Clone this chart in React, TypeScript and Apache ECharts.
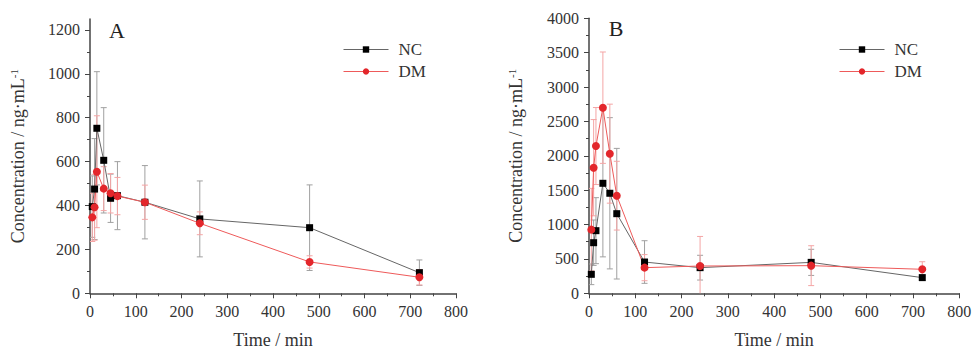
import React, { useEffect, useRef } from "react";
import * as echarts from "echarts";

const TIMES = [5, 10, 15, 30, 45, 60, 120, 240, 480, 720];
const A_Y_TICKS = [0, 200, 400, 600, 800, 1000, 1200];
const A_Y_MINOR = [100, 300, 500, 700, 900, 1100];

const A_NC_MEAN = [395, 475, 752, 606, 433, 445, 415, 339, 299, 94];
const A_NC_SD = [140, 230, 258, 240, 110, 155, 167, 173, 195, 58];
const A_DM_MEAN = [346, 392, 554, 477, 456, 443, 415, 319, 143, 73];
const A_DM_SD = [110, 150, 255, 100, 90, 85, 78, 52, 28, 35];

const B_NC_MEAN = [276, 736, 911, 1600, 1455, 1158, 455, 373, 450, 228];
const B_NC_SD = [150, 330, 480, 1070, 1100, 950, 310, 180, 190, 40];
const B_DM_MEAN = [926, 1827, 2142, 2700, 2031, 1420, 373, 397, 402, 349];
const B_DM_SD = [600, 700, 560, 810, 720, 500, 190, 430, 290, 110];

const FONT = "'Liberation Serif', 'Times New Roman', serif";
const TXT = "#333";
const AXIS = "#444";
const NC_MARK = "#000";
const NC_LINE = "#666";
const NC_ERR = "#a0a0a0";
const DM_MARK = "#e3262b";
const DM_LINE = "#ee5a5a";
const DM_ERR = "#f4a5a5";

const plain = (v: number) => String(v);

function pairs(means: number[]) {
  return TIMES.map((t, i) => [t, means[i]]);
}

function errSeries(gi: number, yi: number, means: number[], sds: number[], color: string) {
  return {
    type: "custom",
    xAxisIndex: gi,
    yAxisIndex: yi,
    silent: true,
    z: 1,
    clip: true,
    data: TIMES.map((t, i) => [t, means[i] - sds[i], means[i] + sds[i]]),
    encode: { x: 0, y: [1, 2] },
    renderItem: (_p: any, api: any) => {
      const lo = api.coord([api.value(0), api.value(1)]);
      const hi = api.coord([api.value(0), api.value(2)]);
      const w = 3;
      const st = { stroke: color, lineWidth: 1 };
      return {
        type: "group",
        children: [
          { type: "line", shape: { x1: lo[0], y1: lo[1], x2: hi[0], y2: hi[1] }, style: st },
          { type: "line", shape: { x1: lo[0] - w, y1: lo[1], x2: lo[0] + w, y2: lo[1] }, style: st },
          { type: "line", shape: { x1: hi[0] - w, y1: hi[1], x2: hi[0] + w, y2: hi[1] }, style: st },
        ],
      };
    },
  };
}

function lineSeries(name: string, gi: number, yi: number, means: number[], isNC: boolean) {
  return {
    type: "line",
    name,
    xAxisIndex: gi,
    yAxisIndex: yi,
    data: pairs(means),
    symbol: isNC ? "rect" : "circle",
    symbolSize: isNC ? 7 : 8,
    z: 3,
    lineStyle: { color: isNC ? NC_LINE : DM_LINE, width: 1 },
    itemStyle: { color: isNC ? NC_MARK : DM_MARK },
  };
}

const xAxisBase = (gi: number) => ({
  type: "value",
  gridIndex: gi,
  min: 0,
  max: 800,
  interval: 100,
  name: "Time / min",
  nameLocation: "middle",
  nameGap: 38,
  nameTextStyle: { fontFamily: FONT, fontSize: 18, color: TXT },
  axisLine: { show: true, onZero: false, lineStyle: { color: AXIS, width: 1.5 } },
  axisTick: { show: true, length: 5, lineStyle: { color: AXIS, width: 1 } },
  minorTick: { show: true, splitNumber: 2, length: 3, lineStyle: { color: AXIS } },
  axisLabel: { fontFamily: FONT, fontSize: 16, color: TXT, margin: 10, formatter: plain },
  splitLine: { show: false },
  minorSplitLine: { show: false },
});

const yName = {
  name: "Concentration / ng·mL{sup|-1}",
  nameLocation: "middle",
  nameTextStyle: {
    fontFamily: FONT,
    fontSize: 18,
    color: TXT,
    rich: {
      sup: { fontFamily: FONT, fontSize: 11, color: TXT, verticalAlign: "top", padding: [0, 0, 8, 0] },
    },
  },
};

const legendBase = (left: number) => ({
  left,
  top: 36,
  orient: "vertical",
  itemWidth: 45,
  itemHeight: 8,
  itemGap: 5,
  data: ["NC", "DM"],
  lineStyle: { width: 1 },
  textStyle: { fontFamily: FONT, fontSize: 17, color: TXT, padding: [0, 0, 0, 5] },
});

export default function App() {
  const ref = useRef<HTMLDivElement>(null);
  useEffect(() => {
    if (!ref.current) return;
    const chart = echarts.init(ref.current, undefined, { renderer: "svg" });
    const option: any = {
      animation: false,
      backgroundColor: "#fff",
      textStyle: { fontFamily: FONT },
      grid: [
        { left: 90, top: 19, width: 366, height: 274.3, outerBoundsMode: "none", containLabel: false },
        { left: 589, top: 18.3, width: 370.3, height: 275, outerBoundsMode: "none", containLabel: false },
      ],
      xAxis: [xAxisBase(0), xAxisBase(1)],
      yAxis: [
        {
          type: "value",
          gridIndex: 0,
          min: 0,
          max: 1250,
          interval: 50,
          ...yName,
          nameGap: 63,
          axisLine: { show: true, lineStyle: { color: AXIS, width: 1.5 } },
          axisTick: { show: true, length: 5, customValues: A_Y_TICKS, lineStyle: { color: AXIS } },
          axisLabel: {
            fontFamily: FONT,
            fontSize: 16,
            color: TXT,
            margin: 10,
            customValues: A_Y_TICKS,
            formatter: plain,
          },
          splitLine: { show: false },
        },
        {
          type: "value",
          gridIndex: 0,
          min: 0,
          max: 1250,
          interval: 50,
          position: "left",
          axisLine: { show: false },
          axisTick: { show: true, length: 3, customValues: A_Y_MINOR, lineStyle: { color: AXIS } },
          axisLabel: { show: false },
          splitLine: { show: false },
        },
        {
          type: "value",
          gridIndex: 1,
          min: 0,
          max: 4000,
          interval: 500,
          ...yName,
          nameGap: 64,
          axisLine: { show: true, lineStyle: { color: AXIS, width: 1.5 } },
          axisTick: { show: true, length: 5, lineStyle: { color: AXIS } },
          minorTick: { show: true, splitNumber: 2, length: 3, lineStyle: { color: AXIS } },
          axisLabel: { fontFamily: FONT, fontSize: 16, color: TXT, margin: 10, formatter: plain },
          splitLine: { show: false },
          minorSplitLine: { show: false },
        },
      ],
      legend: [legendBase(338), legendBase(834)],
      graphic: [
        {
          type: "text",
          x: 117,
          y: 30,
          style: { text: "A", font: `22px ${FONT}`, fill: "#222", align: "center", verticalAlign: "middle" },
        },
        {
          type: "text",
          x: 616,
          y: 28,
          style: { text: "B", font: `22px ${FONT}`, fill: "#222", align: "center", verticalAlign: "middle" },
        },
      ],
      series: [
        errSeries(0, 0, A_NC_MEAN, A_NC_SD, NC_ERR),
        errSeries(0, 0, A_DM_MEAN, A_DM_SD, DM_ERR),
        lineSeries("NC", 0, 0, A_NC_MEAN, true),
        lineSeries("DM", 0, 0, A_DM_MEAN, false),
        errSeries(1, 2, B_NC_MEAN, B_NC_SD, NC_ERR),
        errSeries(1, 2, B_DM_MEAN, B_DM_SD, DM_ERR),
        lineSeries("NC", 1, 2, B_NC_MEAN, true),
        lineSeries("DM", 1, 2, B_DM_MEAN, false),
      ],
    };
    chart.setOption(option);
    return () => chart.dispose();
  }, []);
  return (
    <div
      ref={ref}
      style={{ position: "fixed", left: 0, top: 0, width: 972, height: 350, background: "#fff" }}
    />
  );
}
